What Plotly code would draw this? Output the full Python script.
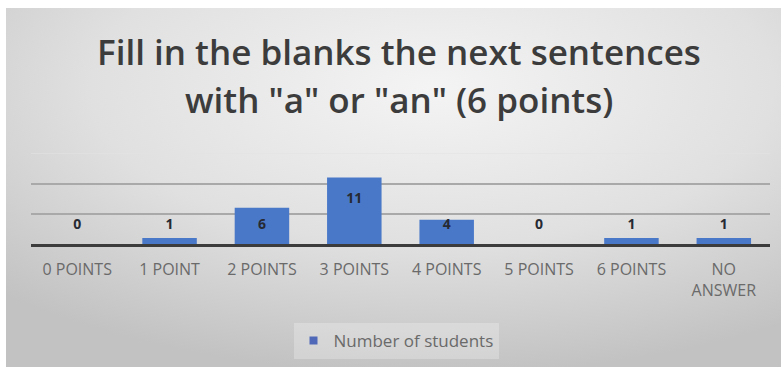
import base64
import plotly.graph_objects as go

# Survey results: number of students per score band
categories = ["0 POINTS", "1 POINT", "2 POINTS", "3 POINTS", "4 POINTS",
              "5 POINTS", "6 POINTS", "NO<br>ANSWER"]
students = [0, 1, 6, 11, 4, 0, 1, 1]
series_name = "Number of students"
title_lines = ["Fill in the blanks the next sentences",
               'with "a" or "an" (6 points)']

W, H = 781, 369
BAR_COLOR = "#4a78c8"
TEXT_GRAY = "#6a6a6a"

# Chart-area panel with a soft grey radial gradient
svg = (
    '<svg xmlns="http://www.w3.org/2000/svg" width="775" height="359" '
    'viewBox="0 0 775 359" preserveAspectRatio="none">'
    '<defs><radialGradient id="g" cx="0.55" cy="0.22" r="0.8">'
    '<stop offset="0" stop-color="#f4f4f4"/>'
    '<stop offset="0.55" stop-color="#e0e0e0"/>'
    '<stop offset="1" stop-color="#c2c2c2"/>'
    '</radialGradient></defs>'
    '<rect width="775" height="359" fill="url(#g)"/></svg>'
)
bg_src = "data:image/svg+xml;base64," + base64.b64encode(svg.encode()).decode()

# Value labels sit inside the bar end, but never lower than a fixed floor
label_y = [max(v - 3.7, 3.1) for v in students]

fig = go.Figure()
fig.add_trace(go.Bar(
    x=categories, y=students, marker=dict(color=BAR_COLOR, line=dict(width=0)),
    showlegend=False, hoverinfo="skip",
))
fig.add_trace(go.Scatter(
    x=categories, y=label_y, mode="text", text=[str(v) for v in students],
    textfont=dict(family="Open Sans", size=14, color="#262a33", weight=700),
    showlegend=False, hoverinfo="skip", cliponaxis=False,
))
fig.add_trace(go.Scatter(
    x=[None], y=[None], mode="markers", name=series_name,
    marker=dict(symbol="square", size=8, color="#5068b8"),
))

# Two-line title, one annotation per line for exact line spacing
title_annotations = [
    dict(text=line, xref="paper", yref="paper",
         x=399 / W, y=1 - yc / H, xanchor="center", yanchor="middle",
         showarrow=False,
         font=dict(family="Open Sans", size=35, color="#3c3c3c", weight=600))
    for line, yc in zip(title_lines, [52, 100])
]

fig.update_layout(
    width=W, height=H, autosize=False,
    margin=dict(l=0, r=0, t=0, b=0),
    paper_bgcolor="white", plot_bgcolor="rgba(0,0,0,0)",
    bargap=0.41,
    images=[dict(
        source=bg_src, xref="paper", yref="paper",
        x=6 / W, y=1 - 8 / H, sizex=(W - 6) / W, sizey=(367 - 8) / H,
        xanchor="left", yanchor="top", sizing="stretch", layer="below",
    )],
    xaxis=dict(
        domain=[31 / W, 770 / W],
        showline=True, linewidth=3, linecolor="#3c3c3c",
        showgrid=False, ticks="", ticklabelstandoff=9,
        tickfont=dict(family="Open Sans", size=16, color=TEXT_GRAY),
    ),
    yaxis=dict(
        domain=[(H - 244) / H, (H - 153.25) / H],
        range=[0, 15], tickvals=[5, 10], showticklabels=False,
        showgrid=True, gridcolor="#a9a9a9", gridwidth=1.5,
        zeroline=False, showline=False,
    ),
    shapes=[dict(
        type="line", xref="paper", yref="y", x0=31 / W, x1=770 / W, y0=15, y1=15,
        line=dict(color="#e2e2e2", width=1), layer="below",
    )],
    annotations=title_annotations,
    legend=dict(
        orientation="h", x=396 / W, y=(H - 341) / H,
        xanchor="center", yanchor="middle",
        bgcolor="rgba(255,255,255,0.25)",
        font=dict(family="Open Sans", size=17, color=TEXT_GRAY),
        itemwidth=30,
    ),
)

fig.write_html("out.html")
